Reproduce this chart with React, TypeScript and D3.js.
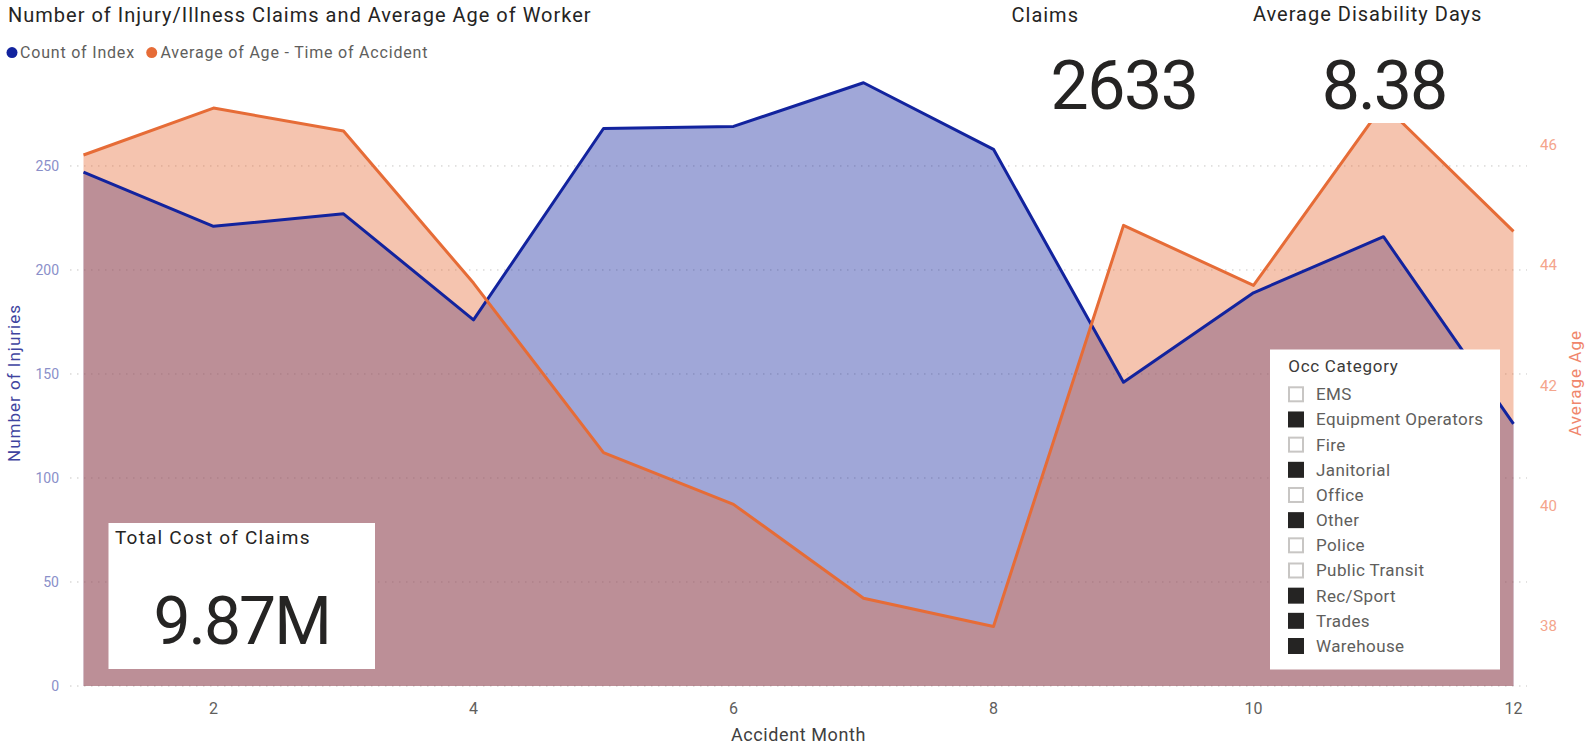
import React from 'react';
import * as d3 from 'd3';

const months = [1, 2, 3, 4, 5, 6, 7, 8, 9, 10, 11, 12];
const countOfIndex = [247, 221, 227, 176, 268, 269, 290, 258, 146, 189, 216, 126];
const avgAge = [45.83, 46.61, 46.23, 43.7, 40.88, 40.02, 38.46, 37.99, 44.66, 43.66, 46.67, 44.56];
const leftTicks = [0, 50, 100, 150, 200, 250];
const rightTicks = [38, 40, 42, 44, 46];
const monthTicks = [2, 4, 6, 8, 10, 12];
const occCategories = ['EMS', 'Equipment Operators', 'Fire', 'Janitorial', 'Office', 'Other', 'Police', 'Public Transit', 'Rec/Sport', 'Trades', 'Warehouse'];
const occSelected = [false, true, false, true, false, true, false, false, true, true, true];
const chartTitle = 'Number of Injury/Illness Claims and Average Age of Worker';
const seriesNames = ['Count of Index', 'Average of Age - Time of Accident'];
const kpiClaims = { title: 'Claims', value: '2633' };
const kpiDays = { title: 'Average Disability Days', value: '8.38' };
const kpiCost = { title: 'Total Cost of Claims', value: '9.87M' };

const W = 1586;
const H = 746;
const FONT = "Roboto, 'Noto Sans', sans-serif";
const BLUE = '#12239E';
const ORANGE = '#E66C37';

export default function App() {
  const plot = { left: 83.5, right: 1513.5, top: 78.6, bottom: 686 };
  const x = d3.scaleLinear().domain([1, 12]).range([plot.left, plot.right]);
  const yL = d3.scaleLinear().domain([0, 292]).range([plot.bottom, plot.top]);
  const yR = d3.scaleLinear().domain([37, 47.1]).range([plot.bottom, plot.top]);

  const blueArea = d3.area<number>().x((_, i) => x(months[i])).y0(yL(0)).y1((d) => yL(d))(countOfIndex) || '';
  const blueLine = d3.line<number>().x((_, i) => x(months[i])).y((d) => yL(d))(countOfIndex) || '';
  const orangeArea = d3.area<number>().x((_, i) => x(months[i])).y0(yR(37)).y1((d) => yR(d))(avgAge) || '';
  const orangeLine = d3.line<number>().x((_, i) => x(months[i])).y((d) => yR(d))(avgAge) || '';

  const itemY0 = 394.3;
  const itemStep = 25.17;

  return (
    <svg width={W} height={H} style={{ position: 'absolute', left: 0, top: 0, background: '#fff' }} fontFamily={FONT}>
      <rect x={0} y={0} width={W} height={H} fill="#ffffff" />
      {/* title + legend */}
      <text x={8} y={22} fontSize={20} fill="#252423" style={{ letterSpacing: '1px' }}>{chartTitle}</text>
      <circle cx={12} cy={52.6} r={5.5} fill={BLUE} />
      <text x={20} y={58.2} fontSize={16} fill="#605E5C" style={{ letterSpacing: '0.8px' }}>{seriesNames[0]}</text>
      <circle cx={151.7} cy={52.6} r={5.5} fill={ORANGE} />
      <text x={160.5} y={58.2} fontSize={16} fill="#605E5C" style={{ letterSpacing: '0.8px' }}>{seriesNames[1]}</text>

      {/* gridlines */}
      {leftTicks.map((t) => (
        <line key={'g' + t} x1={70} x2={1527} y1={yL(t)} y2={yL(t)} stroke="#C8C6C4" strokeWidth={1} strokeDasharray="1.5 5.5" />
      ))}

      {/* areas */}
      <path d={blueArea} fill={BLUE} fillOpacity={0.4} />
      <path d={orangeArea} fill={ORANGE} fillOpacity={0.4} />
      <path d={blueLine} fill="none" stroke={BLUE} strokeWidth={3} strokeLinejoin="round" />
      <path d={orangeLine} fill="none" stroke={ORANGE} strokeWidth={3} strokeLinejoin="round" />

      {/* left axis */}
      {leftTicks.map((t) => (
        <text key={'l' + t} x={59} y={yL(t)} dy="0.36em" textAnchor="end" fontSize={14} fill="#8A8FC9">{t}</text>
      ))}
      <text transform={`translate(14,383) rotate(-90)`} textAnchor="middle" dominantBaseline="central" fontSize={17} fill="#3F44A0" style={{ letterSpacing: '1px' }}>Number of Injuries</text>

      {/* right axis */}
      {rightTicks.map((t) => (
        <text key={'r' + t} x={1540} y={yR(t)} dy="0.36em" textAnchor="start" fontSize={15} fill="#F4A58C">{t}</text>
      ))}
      <text transform={`translate(1575,383) rotate(-90)`} textAnchor="middle" dominantBaseline="central" fontSize={17} fill="#F0866C" style={{ letterSpacing: '1px' }}>Average Age</text>

      {/* x axis */}
      {monthTicks.map((t) => (
        <text key={'x' + t} x={x(t)} y={713.5} textAnchor="middle" fontSize={16} fill="#605E5C">{t}</text>
      ))}
      <text x={(plot.left + plot.right) / 2} y={741} textAnchor="middle" fontSize={18} fill="#404040" style={{ letterSpacing: '0.6px' }}>Accident Month</text>

      {/* KPI cards top right */}
      <rect x={990} y={0} width={250} height={123} fill="#ffffff" />
      <rect x={1240} y={0} width={290} height={123} fill="#ffffff" />
      <text x={1011.5} y={21.5} fontSize={20} fill="#252423" style={{ letterSpacing: '1px' }}>{kpiClaims.title}</text>
      <text x={1124} y={108.5} textAnchor="middle" fontSize={68} fill="#252423" style={{ letterSpacing: '-1.5px' }}>{kpiClaims.value}</text>
      <text x={1253} y={20.5} fontSize={20} fill="#252423" style={{ letterSpacing: '1px' }}>{kpiDays.title}</text>
      <text x={1384} y={108.5} textAnchor="middle" fontSize={68} fill="#252423" style={{ letterSpacing: '-2px' }}>{kpiDays.value}</text>

      {/* Total cost card */}
      <rect x={108.5} y={523} width={266.5} height={146} fill="#ffffff" />
      <text x={115} y={543.5} fontSize={19} fill="#252423" style={{ letterSpacing: '1.2px' }}>{kpiCost.title}</text>
      <text x={241.7} y={643.5} textAnchor="middle" fontSize={66} fill="#252423" style={{ letterSpacing: '-2px' }}>{kpiCost.value}</text>

      {/* slicer */}
      <rect x={1270} y={349.5} width={230} height={320} fill="#ffffff" />
      <text x={1288.3} y={372.3} fontSize={17} fill="#3B3A39" style={{ letterSpacing: '0.7px' }}>Occ Category</text>
      {occCategories.map((c, i) => {
        const cy = itemY0 + i * itemStep;
        return (
          <g key={c}>
            {occSelected[i] ? (
              <rect x={1288} y={cy - 8} width={16} height={16} fill="#252423" />
            ) : (
              <rect x={1289} y={cy - 7} width={14} height={14} fill="#ffffff" stroke="#C8C6C4" strokeWidth={2} />
            )}
            <text x={1316} y={cy + 6} fontSize={17} fill="#605E5C" style={{ letterSpacing: '0.4px' }}>{c}</text>
          </g>
        );
      })}
    </svg>
  );
}
